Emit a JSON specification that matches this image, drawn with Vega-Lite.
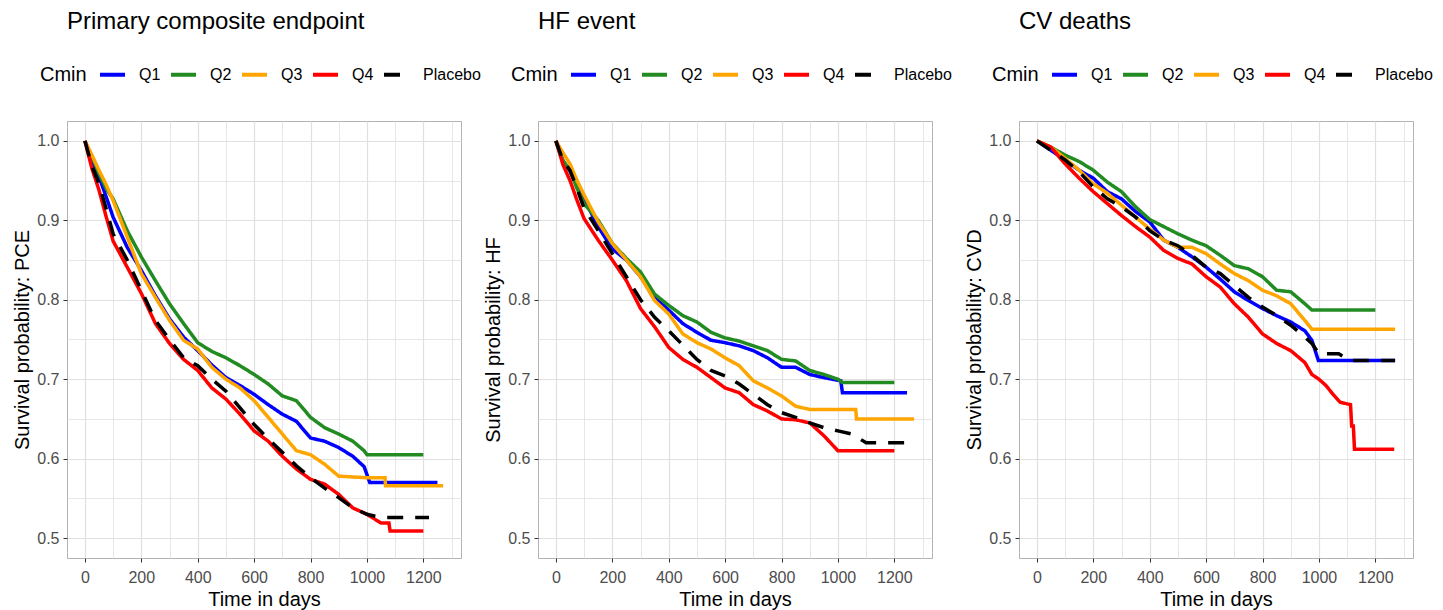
{
  "$schema": "https://vega.github.io/schema/vega-lite/v6.json",
  "padding": {"left": 12, "top": 9, "right": 0, "bottom": 0},
  "background": "white",
  "config": {
    "font": "Liberation Sans",
    "view": {"stroke": "#b3b3b3", "strokeWidth": 1},
    "axis": {
      "labelFontSize": 16,
      "labelColor": "#4d4d4d",
      "titleFontSize": 20,
      "titleFontWeight": "normal",
      "titleColor": "#000000",
      "tickColor": "#333333",
      "tickSize": 4,
      "domain": false,
      "gridColor": "#e0e0e0",
      "labelPadding": 4,
      "titlePadding": 4
    },
    "axisX": {"labelPadding": 7},
    "legend": {
      "orient": "none",
      "legendX": -27,
      "legendY": -61,
      "direction": "horizontal",
      "titleOrient": "left",
      "titleAnchor": "middle",
      "titleBaseline": "middle",
      "titleFontSize": 20,
      "titleFontWeight": "normal",
      "titleColor": "#000000",
      "titlePadding": 11,
      "labelFontSize": 16,
      "labelColor": "#000000",
      "symbolType": "stroke",
      "symbolSize": 625,
      "symbolStrokeWidth": 4,
      "labelOffset": 12,
      "columnPadding": 2
    },
    "title": {"fontSize": 24, "fontWeight": "normal", "color": "#000000", "anchor": "start", "frame": "group", "offset": 26}
  },
  "datasets": {
    "km": [
      {"p":"PCE","g":"Q1","t":0,"s":1},{"p":"PCE","g":"Q1","t":25,"s":0.975},{"p":"PCE","g":"Q1","t":50,"s":0.955},{"p":"PCE","g":"Q1","t":75,"s":0.93},{"p":"PCE","g":"Q1","t":100,"s":0.904},{"p":"PCE","g":"Q1","t":150,"s":0.866},{"p":"PCE","g":"Q1","t":200,"s":0.837},{"p":"PCE","g":"Q1","t":250,"s":0.805},{"p":"PCE","g":"Q1","t":300,"s":0.776},{"p":"PCE","g":"Q1","t":350,"s":0.753},{"p":"PCE","g":"Q1","t":400,"s":0.736},{"p":"PCE","g":"Q1","t":450,"s":0.718},{"p":"PCE","g":"Q1","t":500,"s":0.702},{"p":"PCE","g":"Q1","t":550,"s":0.692},{"p":"PCE","g":"Q1","t":600,"s":0.681},{"p":"PCE","g":"Q1","t":650,"s":0.668},{"p":"PCE","g":"Q1","t":700,"s":0.656},{"p":"PCE","g":"Q1","t":750,"s":0.647},{"p":"PCE","g":"Q1","t":800,"s":0.626},{"p":"PCE","g":"Q1","t":850,"s":0.622},{"p":"PCE","g":"Q1","t":900,"s":0.614},{"p":"PCE","g":"Q1","t":950,"s":0.603},{"p":"PCE","g":"Q1","t":990,"s":0.59},{"p":"PCE","g":"Q1","t":1000,"s":0.58},{"p":"PCE","g":"Q1","t":1010,"s":0.57},{"p":"PCE","g":"Q1","t":1250,"s":0.57},
      {"p":"PCE","g":"Q2","t":0,"s":1},{"p":"PCE","g":"Q2","t":25,"s":0.98},{"p":"PCE","g":"Q2","t":50,"s":0.959},{"p":"PCE","g":"Q2","t":75,"s":0.94},{"p":"PCE","g":"Q2","t":100,"s":0.927},{"p":"PCE","g":"Q2","t":150,"s":0.887},{"p":"PCE","g":"Q2","t":200,"s":0.854},{"p":"PCE","g":"Q2","t":250,"s":0.824},{"p":"PCE","g":"Q2","t":300,"s":0.795},{"p":"PCE","g":"Q2","t":350,"s":0.77},{"p":"PCE","g":"Q2","t":400,"s":0.746},{"p":"PCE","g":"Q2","t":450,"s":0.735},{"p":"PCE","g":"Q2","t":500,"s":0.727},{"p":"PCE","g":"Q2","t":550,"s":0.717},{"p":"PCE","g":"Q2","t":600,"s":0.706},{"p":"PCE","g":"Q2","t":650,"s":0.694},{"p":"PCE","g":"Q2","t":700,"s":0.679},{"p":"PCE","g":"Q2","t":750,"s":0.673},{"p":"PCE","g":"Q2","t":800,"s":0.652},{"p":"PCE","g":"Q2","t":850,"s":0.639},{"p":"PCE","g":"Q2","t":900,"s":0.631},{"p":"PCE","g":"Q2","t":950,"s":0.622},{"p":"PCE","g":"Q2","t":990,"s":0.61},{"p":"PCE","g":"Q2","t":1000,"s":0.605},{"p":"PCE","g":"Q2","t":1200,"s":0.605},
      {"p":"PCE","g":"Q3","t":0,"s":1},{"p":"PCE","g":"Q3","t":25,"s":0.982},{"p":"PCE","g":"Q3","t":50,"s":0.963},{"p":"PCE","g":"Q3","t":75,"s":0.945},{"p":"PCE","g":"Q3","t":100,"s":0.925},{"p":"PCE","g":"Q3","t":150,"s":0.879},{"p":"PCE","g":"Q3","t":200,"s":0.833},{"p":"PCE","g":"Q3","t":250,"s":0.803},{"p":"PCE","g":"Q3","t":300,"s":0.774},{"p":"PCE","g":"Q3","t":350,"s":0.749},{"p":"PCE","g":"Q3","t":400,"s":0.738},{"p":"PCE","g":"Q3","t":450,"s":0.715},{"p":"PCE","g":"Q3","t":500,"s":0.7},{"p":"PCE","g":"Q3","t":550,"s":0.689},{"p":"PCE","g":"Q3","t":600,"s":0.673},{"p":"PCE","g":"Q3","t":650,"s":0.652},{"p":"PCE","g":"Q3","t":700,"s":0.631},{"p":"PCE","g":"Q3","t":750,"s":0.61},{"p":"PCE","g":"Q3","t":800,"s":0.605},{"p":"PCE","g":"Q3","t":850,"s":0.593},{"p":"PCE","g":"Q3","t":900,"s":0.578},{"p":"PCE","g":"Q3","t":1000,"s":0.576},{"p":"PCE","g":"Q3","t":1064,"s":0.576},{"p":"PCE","g":"Q3","t":1066,"s":0.566},{"p":"PCE","g":"Q3","t":1270,"s":0.566},
      {"p":"PCE","g":"Q4","t":0,"s":1},{"p":"PCE","g":"Q4","t":25,"s":0.965},{"p":"PCE","g":"Q4","t":50,"s":0.938},{"p":"PCE","g":"Q4","t":75,"s":0.905},{"p":"PCE","g":"Q4","t":100,"s":0.874},{"p":"PCE","g":"Q4","t":150,"s":0.841},{"p":"PCE","g":"Q4","t":200,"s":0.808},{"p":"PCE","g":"Q4","t":250,"s":0.77},{"p":"PCE","g":"Q4","t":300,"s":0.745},{"p":"PCE","g":"Q4","t":350,"s":0.725},{"p":"PCE","g":"Q4","t":400,"s":0.711},{"p":"PCE","g":"Q4","t":450,"s":0.689},{"p":"PCE","g":"Q4","t":500,"s":0.675},{"p":"PCE","g":"Q4","t":550,"s":0.656},{"p":"PCE","g":"Q4","t":600,"s":0.635},{"p":"PCE","g":"Q4","t":650,"s":0.622},{"p":"PCE","g":"Q4","t":700,"s":0.603},{"p":"PCE","g":"Q4","t":750,"s":0.587},{"p":"PCE","g":"Q4","t":800,"s":0.574},{"p":"PCE","g":"Q4","t":850,"s":0.568},{"p":"PCE","g":"Q4","t":900,"s":0.555},{"p":"PCE","g":"Q4","t":950,"s":0.538},{"p":"PCE","g":"Q4","t":1000,"s":0.53},{"p":"PCE","g":"Q4","t":1050,"s":0.519},{"p":"PCE","g":"Q4","t":1078,"s":0.519},{"p":"PCE","g":"Q4","t":1082,"s":0.509},{"p":"PCE","g":"Q4","t":1200,"s":0.509},
      {"p":"PCE","g":"Placebo","t":0,"s":1},{"p":"PCE","g":"Placebo","t":25,"s":0.968},{"p":"PCE","g":"Placebo","t":50,"s":0.946},{"p":"PCE","g":"Placebo","t":75,"s":0.915},{"p":"PCE","g":"Placebo","t":100,"s":0.883},{"p":"PCE","g":"Placebo","t":150,"s":0.85},{"p":"PCE","g":"Placebo","t":200,"s":0.812},{"p":"PCE","g":"Placebo","t":250,"s":0.774},{"p":"PCE","g":"Placebo","t":300,"s":0.75},{"p":"PCE","g":"Placebo","t":350,"s":0.727},{"p":"PCE","g":"Placebo","t":400,"s":0.717},{"p":"PCE","g":"Placebo","t":450,"s":0.7},{"p":"PCE","g":"Placebo","t":500,"s":0.685},{"p":"PCE","g":"Placebo","t":550,"s":0.664},{"p":"PCE","g":"Placebo","t":600,"s":0.643},{"p":"PCE","g":"Placebo","t":650,"s":0.625},{"p":"PCE","g":"Placebo","t":700,"s":0.608},{"p":"PCE","g":"Placebo","t":750,"s":0.591},{"p":"PCE","g":"Placebo","t":800,"s":0.576},{"p":"PCE","g":"Placebo","t":850,"s":0.563},{"p":"PCE","g":"Placebo","t":900,"s":0.551},{"p":"PCE","g":"Placebo","t":950,"s":0.538},{"p":"PCE","g":"Placebo","t":1000,"s":0.53},{"p":"PCE","g":"Placebo","t":1050,"s":0.526},{"p":"PCE","g":"Placebo","t":1220,"s":0.526},
      {"p":"HF","g":"Q1","t":0,"s":1},{"p":"HF","g":"Q1","t":25,"s":0.975},{"p":"HF","g":"Q1","t":50,"s":0.962},{"p":"HF","g":"Q1","t":75,"s":0.945},{"p":"HF","g":"Q1","t":100,"s":0.927},{"p":"HF","g":"Q1","t":150,"s":0.892},{"p":"HF","g":"Q1","t":200,"s":0.864},{"p":"HF","g":"Q1","t":250,"s":0.85},{"p":"HF","g":"Q1","t":300,"s":0.829},{"p":"HF","g":"Q1","t":350,"s":0.803},{"p":"HF","g":"Q1","t":400,"s":0.787},{"p":"HF","g":"Q1","t":450,"s":0.77},{"p":"HF","g":"Q1","t":500,"s":0.759},{"p":"HF","g":"Q1","t":550,"s":0.749},{"p":"HF","g":"Q1","t":600,"s":0.746},{"p":"HF","g":"Q1","t":650,"s":0.742},{"p":"HF","g":"Q1","t":700,"s":0.736},{"p":"HF","g":"Q1","t":750,"s":0.727},{"p":"HF","g":"Q1","t":800,"s":0.715},{"p":"HF","g":"Q1","t":850,"s":0.715},{"p":"HF","g":"Q1","t":900,"s":0.706},{"p":"HF","g":"Q1","t":950,"s":0.702},{"p":"HF","g":"Q1","t":1010,"s":0.698},{"p":"HF","g":"Q1","t":1016,"s":0.683},{"p":"HF","g":"Q1","t":1245,"s":0.683},
      {"p":"HF","g":"Q2","t":0,"s":1},{"p":"HF","g":"Q2","t":25,"s":0.975},{"p":"HF","g":"Q2","t":50,"s":0.963},{"p":"HF","g":"Q2","t":75,"s":0.94},{"p":"HF","g":"Q2","t":100,"s":0.921},{"p":"HF","g":"Q2","t":150,"s":0.9},{"p":"HF","g":"Q2","t":200,"s":0.871},{"p":"HF","g":"Q2","t":250,"s":0.852},{"p":"HF","g":"Q2","t":300,"s":0.835},{"p":"HF","g":"Q2","t":350,"s":0.807},{"p":"HF","g":"Q2","t":400,"s":0.793},{"p":"HF","g":"Q2","t":450,"s":0.78},{"p":"HF","g":"Q2","t":500,"s":0.772},{"p":"HF","g":"Q2","t":550,"s":0.759},{"p":"HF","g":"Q2","t":600,"s":0.752},{"p":"HF","g":"Q2","t":650,"s":0.748},{"p":"HF","g":"Q2","t":700,"s":0.742},{"p":"HF","g":"Q2","t":750,"s":0.736},{"p":"HF","g":"Q2","t":800,"s":0.725},{"p":"HF","g":"Q2","t":850,"s":0.723},{"p":"HF","g":"Q2","t":900,"s":0.711},{"p":"HF","g":"Q2","t":950,"s":0.706},{"p":"HF","g":"Q2","t":1000,"s":0.7},{"p":"HF","g":"Q2","t":1015,"s":0.696},{"p":"HF","g":"Q2","t":1200,"s":0.696},
      {"p":"HF","g":"Q3","t":0,"s":1},{"p":"HF","g":"Q3","t":25,"s":0.985},{"p":"HF","g":"Q3","t":50,"s":0.971},{"p":"HF","g":"Q3","t":75,"s":0.95},{"p":"HF","g":"Q3","t":100,"s":0.932},{"p":"HF","g":"Q3","t":150,"s":0.898},{"p":"HF","g":"Q3","t":200,"s":0.871},{"p":"HF","g":"Q3","t":250,"s":0.85},{"p":"HF","g":"Q3","t":300,"s":0.829},{"p":"HF","g":"Q3","t":350,"s":0.799},{"p":"HF","g":"Q3","t":400,"s":0.782},{"p":"HF","g":"Q3","t":450,"s":0.757},{"p":"HF","g":"Q3","t":500,"s":0.746},{"p":"HF","g":"Q3","t":550,"s":0.738},{"p":"HF","g":"Q3","t":600,"s":0.727},{"p":"HF","g":"Q3","t":650,"s":0.717},{"p":"HF","g":"Q3","t":700,"s":0.698},{"p":"HF","g":"Q3","t":750,"s":0.689},{"p":"HF","g":"Q3","t":800,"s":0.679},{"p":"HF","g":"Q3","t":850,"s":0.666},{"p":"HF","g":"Q3","t":900,"s":0.662},{"p":"HF","g":"Q3","t":1063,"s":0.662},{"p":"HF","g":"Q3","t":1066,"s":0.65},{"p":"HF","g":"Q3","t":1270,"s":0.65},
      {"p":"HF","g":"Q4","t":0,"s":1},{"p":"HF","g":"Q4","t":25,"s":0.97},{"p":"HF","g":"Q4","t":50,"s":0.95},{"p":"HF","g":"Q4","t":75,"s":0.925},{"p":"HF","g":"Q4","t":100,"s":0.902},{"p":"HF","g":"Q4","t":150,"s":0.875},{"p":"HF","g":"Q4","t":200,"s":0.85},{"p":"HF","g":"Q4","t":250,"s":0.824},{"p":"HF","g":"Q4","t":300,"s":0.789},{"p":"HF","g":"Q4","t":350,"s":0.766},{"p":"HF","g":"Q4","t":400,"s":0.74},{"p":"HF","g":"Q4","t":450,"s":0.725},{"p":"HF","g":"Q4","t":500,"s":0.715},{"p":"HF","g":"Q4","t":550,"s":0.702},{"p":"HF","g":"Q4","t":600,"s":0.689},{"p":"HF","g":"Q4","t":650,"s":0.683},{"p":"HF","g":"Q4","t":700,"s":0.668},{"p":"HF","g":"Q4","t":750,"s":0.66},{"p":"HF","g":"Q4","t":800,"s":0.65},{"p":"HF","g":"Q4","t":850,"s":0.649},{"p":"HF","g":"Q4","t":900,"s":0.645},{"p":"HF","g":"Q4","t":950,"s":0.629},{"p":"HF","g":"Q4","t":1000,"s":0.61},{"p":"HF","g":"Q4","t":1200,"s":0.61},
      {"p":"HF","g":"Placebo","t":0,"s":1},{"p":"HF","g":"Placebo","t":25,"s":0.975},{"p":"HF","g":"Placebo","t":50,"s":0.963},{"p":"HF","g":"Placebo","t":75,"s":0.94},{"p":"HF","g":"Placebo","t":100,"s":0.915},{"p":"HF","g":"Placebo","t":150,"s":0.887},{"p":"HF","g":"Placebo","t":200,"s":0.858},{"p":"HF","g":"Placebo","t":250,"s":0.829},{"p":"HF","g":"Placebo","t":300,"s":0.8},{"p":"HF","g":"Placebo","t":350,"s":0.778},{"p":"HF","g":"Placebo","t":400,"s":0.761},{"p":"HF","g":"Placebo","t":450,"s":0.743},{"p":"HF","g":"Placebo","t":500,"s":0.725},{"p":"HF","g":"Placebo","t":550,"s":0.711},{"p":"HF","g":"Placebo","t":600,"s":0.704},{"p":"HF","g":"Placebo","t":650,"s":0.694},{"p":"HF","g":"Placebo","t":700,"s":0.681},{"p":"HF","g":"Placebo","t":750,"s":0.668},{"p":"HF","g":"Placebo","t":800,"s":0.658},{"p":"HF","g":"Placebo","t":850,"s":0.652},{"p":"HF","g":"Placebo","t":900,"s":0.645},{"p":"HF","g":"Placebo","t":950,"s":0.639},{"p":"HF","g":"Placebo","t":1000,"s":0.635},{"p":"HF","g":"Placebo","t":1050,"s":0.631},{"p":"HF","g":"Placebo","t":1100,"s":0.62},{"p":"HF","g":"Placebo","t":1240,"s":0.62},
      {"p":"CVD","g":"Q1","t":0,"s":1},{"p":"CVD","g":"Q1","t":50,"s":0.988},{"p":"CVD","g":"Q1","t":100,"s":0.976},{"p":"CVD","g":"Q1","t":150,"s":0.963},{"p":"CVD","g":"Q1","t":200,"s":0.953},{"p":"CVD","g":"Q1","t":250,"s":0.936},{"p":"CVD","g":"Q1","t":300,"s":0.927},{"p":"CVD","g":"Q1","t":350,"s":0.911},{"p":"CVD","g":"Q1","t":400,"s":0.898},{"p":"CVD","g":"Q1","t":450,"s":0.875},{"p":"CVD","g":"Q1","t":500,"s":0.866},{"p":"CVD","g":"Q1","t":550,"s":0.854},{"p":"CVD","g":"Q1","t":600,"s":0.841},{"p":"CVD","g":"Q1","t":650,"s":0.826},{"p":"CVD","g":"Q1","t":700,"s":0.81},{"p":"CVD","g":"Q1","t":750,"s":0.799},{"p":"CVD","g":"Q1","t":800,"s":0.789},{"p":"CVD","g":"Q1","t":850,"s":0.78},{"p":"CVD","g":"Q1","t":900,"s":0.772},{"p":"CVD","g":"Q1","t":950,"s":0.761},{"p":"CVD","g":"Q1","t":975,"s":0.749},{"p":"CVD","g":"Q1","t":998,"s":0.7235},{"p":"CVD","g":"Q1","t":1270,"s":0.7235},
      {"p":"CVD","g":"Q2","t":0,"s":1},{"p":"CVD","g":"Q2","t":50,"s":0.992},{"p":"CVD","g":"Q2","t":100,"s":0.982},{"p":"CVD","g":"Q2","t":150,"s":0.974},{"p":"CVD","g":"Q2","t":200,"s":0.963},{"p":"CVD","g":"Q2","t":250,"s":0.948},{"p":"CVD","g":"Q2","t":300,"s":0.936},{"p":"CVD","g":"Q2","t":350,"s":0.917},{"p":"CVD","g":"Q2","t":400,"s":0.901},{"p":"CVD","g":"Q2","t":450,"s":0.892},{"p":"CVD","g":"Q2","t":500,"s":0.883},{"p":"CVD","g":"Q2","t":550,"s":0.875},{"p":"CVD","g":"Q2","t":600,"s":0.868},{"p":"CVD","g":"Q2","t":650,"s":0.856},{"p":"CVD","g":"Q2","t":700,"s":0.843},{"p":"CVD","g":"Q2","t":750,"s":0.839},{"p":"CVD","g":"Q2","t":800,"s":0.829},{"p":"CVD","g":"Q2","t":850,"s":0.812},{"p":"CVD","g":"Q2","t":900,"s":0.81},{"p":"CVD","g":"Q2","t":950,"s":0.795},{"p":"CVD","g":"Q2","t":975,"s":0.787},{"p":"CVD","g":"Q2","t":1200,"s":0.787},
      {"p":"CVD","g":"Q3","t":0,"s":1},{"p":"CVD","g":"Q3","t":50,"s":0.992},{"p":"CVD","g":"Q3","t":100,"s":0.978},{"p":"CVD","g":"Q3","t":150,"s":0.963},{"p":"CVD","g":"Q3","t":200,"s":0.946},{"p":"CVD","g":"Q3","t":250,"s":0.934},{"p":"CVD","g":"Q3","t":300,"s":0.919},{"p":"CVD","g":"Q3","t":350,"s":0.904},{"p":"CVD","g":"Q3","t":400,"s":0.889},{"p":"CVD","g":"Q3","t":450,"s":0.875},{"p":"CVD","g":"Q3","t":500,"s":0.866},{"p":"CVD","g":"Q3","t":550,"s":0.866},{"p":"CVD","g":"Q3","t":600,"s":0.858},{"p":"CVD","g":"Q3","t":650,"s":0.845},{"p":"CVD","g":"Q3","t":700,"s":0.833},{"p":"CVD","g":"Q3","t":750,"s":0.824},{"p":"CVD","g":"Q3","t":800,"s":0.812},{"p":"CVD","g":"Q3","t":850,"s":0.805},{"p":"CVD","g":"Q3","t":900,"s":0.795},{"p":"CVD","g":"Q3","t":950,"s":0.774},{"p":"CVD","g":"Q3","t":975,"s":0.763},{"p":"CVD","g":"Q3","t":1270,"s":0.763},
      {"p":"CVD","g":"Q4","t":0,"s":1},{"p":"CVD","g":"Q4","t":50,"s":0.992},{"p":"CVD","g":"Q4","t":100,"s":0.971},{"p":"CVD","g":"Q4","t":150,"s":0.953},{"p":"CVD","g":"Q4","t":200,"s":0.936},{"p":"CVD","g":"Q4","t":250,"s":0.921},{"p":"CVD","g":"Q4","t":300,"s":0.906},{"p":"CVD","g":"Q4","t":350,"s":0.892},{"p":"CVD","g":"Q4","t":400,"s":0.879},{"p":"CVD","g":"Q4","t":450,"s":0.862},{"p":"CVD","g":"Q4","t":500,"s":0.852},{"p":"CVD","g":"Q4","t":550,"s":0.845},{"p":"CVD","g":"Q4","t":600,"s":0.829},{"p":"CVD","g":"Q4","t":650,"s":0.816},{"p":"CVD","g":"Q4","t":700,"s":0.795},{"p":"CVD","g":"Q4","t":750,"s":0.778},{"p":"CVD","g":"Q4","t":800,"s":0.757},{"p":"CVD","g":"Q4","t":850,"s":0.745},{"p":"CVD","g":"Q4","t":900,"s":0.736},{"p":"CVD","g":"Q4","t":950,"s":0.721},{"p":"CVD","g":"Q4","t":975,"s":0.706},{"p":"CVD","g":"Q4","t":1000,"s":0.7},{"p":"CVD","g":"Q4","t":1025,"s":0.692},{"p":"CVD","g":"Q4","t":1050,"s":0.681},{"p":"CVD","g":"Q4","t":1075,"s":0.671},{"p":"CVD","g":"Q4","t":1112,"s":0.668},{"p":"CVD","g":"Q4","t":1116,"s":0.641},{"p":"CVD","g":"Q4","t":1122,"s":0.641},{"p":"CVD","g":"Q4","t":1126,"s":0.612},{"p":"CVD","g":"Q4","t":1267,"s":0.612},
      {"p":"CVD","g":"Placebo","t":0,"s":1},{"p":"CVD","g":"Placebo","t":50,"s":0.988},{"p":"CVD","g":"Placebo","t":100,"s":0.976},{"p":"CVD","g":"Placebo","t":150,"s":0.961},{"p":"CVD","g":"Placebo","t":200,"s":0.942},{"p":"CVD","g":"Placebo","t":250,"s":0.927},{"p":"CVD","g":"Placebo","t":300,"s":0.917},{"p":"CVD","g":"Placebo","t":350,"s":0.904},{"p":"CVD","g":"Placebo","t":400,"s":0.887},{"p":"CVD","g":"Placebo","t":450,"s":0.875},{"p":"CVD","g":"Placebo","t":500,"s":0.868},{"p":"CVD","g":"Placebo","t":550,"s":0.856},{"p":"CVD","g":"Placebo","t":600,"s":0.841},{"p":"CVD","g":"Placebo","t":650,"s":0.833},{"p":"CVD","g":"Placebo","t":700,"s":0.818},{"p":"CVD","g":"Placebo","t":750,"s":0.803},{"p":"CVD","g":"Placebo","t":800,"s":0.791},{"p":"CVD","g":"Placebo","t":850,"s":0.78},{"p":"CVD","g":"Placebo","t":900,"s":0.768},{"p":"CVD","g":"Placebo","t":950,"s":0.753},{"p":"CVD","g":"Placebo","t":975,"s":0.745},{"p":"CVD","g":"Placebo","t":1000,"s":0.732},{"p":"CVD","g":"Placebo","t":1070,"s":0.732},{"p":"CVD","g":"Placebo","t":1110,"s":0.7235},{"p":"CVD","g":"Placebo","t":1270,"s":0.7235}
    ]
  },
  "spacing": 77,
  "bounds": "flush",
  "hconcat": [
    {
      "width": 394, "height": 437,
      "title": "Primary composite endpoint",
      "data": {"name": "km"},
      "transform": [{"filter": "datum.p === 'PCE'"}],
      "mark": {"type": "line", "strokeWidth": 3.5, "clip": true},
      "encoding": {
        "x": {"field": "t", "type": "quantitative", "title": "Time in days",
          "scale": {"domain": [-63.5, 1333.5], "nice": false, "zero": false},
          "axis": {"values": [0,100,200,300,400,500,600,700,800,900,1000,1100,1200,1300],
            "labelExpr": "datum.value % 200 === 0 ? format(datum.value, 'd') : ''",
            "tickOpacity": {"condition": {"test": "datum.value % 200 !== 0", "value": 0}, "value": 1},
            "gridWidth": {"condition": {"test": "datum.value % 200 !== 0", "value": 0.8}, "value": 1.2}}},
        "y": {"field": "s", "type": "quantitative", "title": "Survival probability: PCE",
          "scale": {"domain": [0.475, 1.025], "nice": false, "zero": false},
          "axis": {"values": [0.5,0.55,0.6,0.65,0.7,0.75,0.8,0.85,0.9,0.95,1.0],
            "labelExpr": "abs(datum.value*10 - round(datum.value*10)) < 0.001 ? format(datum.value, '.1f') : ''",
            "tickOpacity": {"condition": {"test": "abs(datum.value*10 - round(datum.value*10)) > 0.001", "value": 0}, "value": 1},
            "gridWidth": {"condition": {"test": "abs(datum.value*10 - round(datum.value*10)) > 0.001", "value": 0.8}, "value": 1.2}}},
        "color": {"field": "g", "type": "nominal", "title": "Cmin",
          "legend": {"encode": {"title": {"update": {"dy": {"value": 4}}}}},
          "scale": {"domain": ["Q1","Q2","Q3","Q4","Placebo"], "range": ["#0000ff","#228b22","#ffa500","#ff0000","#000000"]}},
        "strokeDash": {"field": "g", "type": "nominal", "title": "Cmin",
          "scale": {"domain": ["Q1","Q2","Q3","Q4","Placebo"], "range": [[1,0],[1,0],[1,0],[1,0],[16,12]]}}
      }
    },
    {
      "spacing": 87,
      "bounds": "flush",
      "hconcat": [
        {
          "width": 394, "height": 437,
          "title": "HF event",
          "data": {"name": "km"},
          "transform": [{"filter": "datum.p === 'HF'"}],
          "mark": {"type": "line", "strokeWidth": 3.5, "clip": true},
          "encoding": {
            "x": {"field": "t", "type": "quantitative", "title": "Time in days",
              "scale": {"domain": [-63.5, 1333.5], "nice": false, "zero": false},
              "axis": {"values": [0,100,200,300,400,500,600,700,800,900,1000,1100,1200,1300],
                "labelExpr": "datum.value % 200 === 0 ? format(datum.value, 'd') : ''",
                "tickOpacity": {"condition": {"test": "datum.value % 200 !== 0", "value": 0}, "value": 1},
                "gridWidth": {"condition": {"test": "datum.value % 200 !== 0", "value": 0.8}, "value": 1.2}}},
            "y": {"field": "s", "type": "quantitative", "title": "Survival probability: HF",
              "scale": {"domain": [0.475, 1.025], "nice": false, "zero": false},
              "axis": {"values": [0.5,0.55,0.6,0.65,0.7,0.75,0.8,0.85,0.9,0.95,1.0],
                "labelExpr": "abs(datum.value*10 - round(datum.value*10)) < 0.001 ? format(datum.value, '.1f') : ''",
                "tickOpacity": {"condition": {"test": "abs(datum.value*10 - round(datum.value*10)) > 0.001", "value": 0}, "value": 1},
                "gridWidth": {"condition": {"test": "abs(datum.value*10 - round(datum.value*10)) > 0.001", "value": 0.8}, "value": 1.2}}},
            "color": {"field": "g", "type": "nominal", "title": "Cmin",
              "legend": {"encode": {"title": {"update": {"dy": {"value": 4}}}}},
              "scale": {"domain": ["Q1","Q2","Q3","Q4","Placebo"], "range": ["#0000ff","#228b22","#ffa500","#ff0000","#000000"]}},
            "strokeDash": {"field": "g", "type": "nominal", "title": "Cmin",
              "scale": {"domain": ["Q1","Q2","Q3","Q4","Placebo"], "range": [[1,0],[1,0],[1,0],[1,0],[16,12]]}}
          }
        },
        {
          "width": 394, "height": 437,
          "title": "CV deaths",
          "data": {"name": "km"},
          "transform": [{"filter": "datum.p === 'CVD'"}],
          "mark": {"type": "line", "strokeWidth": 3.5, "clip": true},
          "encoding": {
            "x": {"field": "t", "type": "quantitative", "title": "Time in days",
              "scale": {"domain": [-63.5, 1333.5], "nice": false, "zero": false},
              "axis": {"values": [0,100,200,300,400,500,600,700,800,900,1000,1100,1200,1300],
                "labelExpr": "datum.value % 200 === 0 ? format(datum.value, 'd') : ''",
                "tickOpacity": {"condition": {"test": "datum.value % 200 !== 0", "value": 0}, "value": 1},
                "gridWidth": {"condition": {"test": "datum.value % 200 !== 0", "value": 0.8}, "value": 1.2}}},
            "y": {"field": "s", "type": "quantitative", "title": "Survival probability: CVD",
              "scale": {"domain": [0.475, 1.025], "nice": false, "zero": false},
              "axis": {"values": [0.5,0.55,0.6,0.65,0.7,0.75,0.8,0.85,0.9,0.95,1.0],
                "labelExpr": "abs(datum.value*10 - round(datum.value*10)) < 0.001 ? format(datum.value, '.1f') : ''",
                "tickOpacity": {"condition": {"test": "abs(datum.value*10 - round(datum.value*10)) > 0.001", "value": 0}, "value": 1},
                "gridWidth": {"condition": {"test": "abs(datum.value*10 - round(datum.value*10)) > 0.001", "value": 0.8}, "value": 1.2}}},
            "color": {"field": "g", "type": "nominal", "title": "Cmin",
              "legend": {"encode": {"title": {"update": {"dy": {"value": 4}}}}},
              "scale": {"domain": ["Q1","Q2","Q3","Q4","Placebo"], "range": ["#0000ff","#228b22","#ffa500","#ff0000","#000000"]}},
            "strokeDash": {"field": "g", "type": "nominal", "title": "Cmin",
              "scale": {"domain": ["Q1","Q2","Q3","Q4","Placebo"], "range": [[1,0],[1,0],[1,0],[1,0],[16,12]]}}
          }
        }
      ],
      "resolve": {"legend": {"color": "independent", "strokeDash": "independent"}, "scale": {"color": "independent", "strokeDash": "independent"}}
    }
  ],
  "resolve": {"legend": {"color": "independent", "strokeDash": "independent"}, "scale": {"color": "independent", "strokeDash": "independent"}}
}
